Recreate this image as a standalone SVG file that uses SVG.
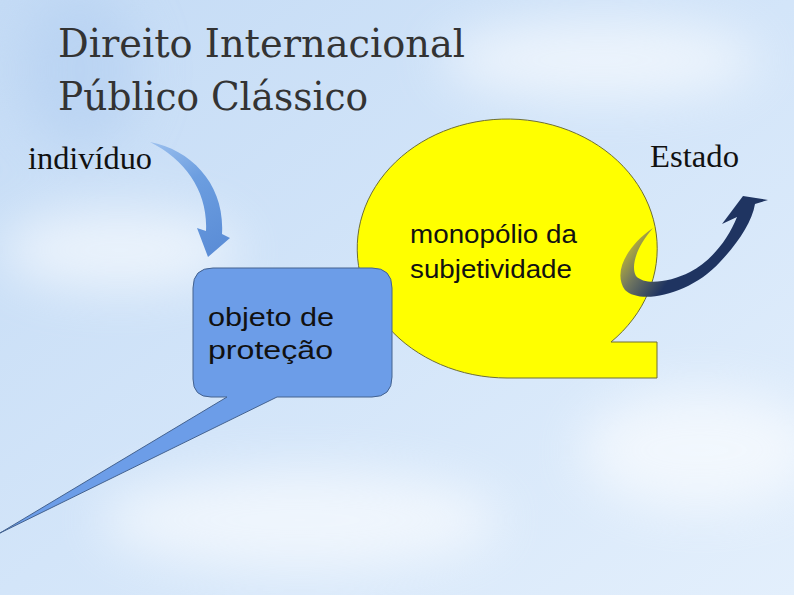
<svg xmlns="http://www.w3.org/2000/svg" width="794" height="595" viewBox="0 0 794 595">
<defs>
<linearGradient id="bg" x1="0" y1="0" x2="1" y2="1">
<stop offset="0" stop-color="#c4dbf5"/>
<stop offset="0.5" stop-color="#d3e5f9"/>
<stop offset="1" stop-color="#e3effc"/>
</linearGradient>
<filter id="blur" x="-50%" y="-50%" width="200%" height="200%"><feGaussianBlur stdDeviation="25"/></filter>
<linearGradient id="lightArrow" gradientUnits="userSpaceOnUse" x1="150" y1="142" x2="215" y2="257">
<stop offset="0" stop-color="#9cc0ee"/>
<stop offset="0.4" stop-color="#6c9ee0"/>
<stop offset="1" stop-color="#5a8cd6"/>
</linearGradient>
<linearGradient id="darkArrow" gradientUnits="userSpaceOnUse" x1="622" y1="250" x2="668" y2="282">
<stop offset="0" stop-color="#c2b935"/>
<stop offset="0.45" stop-color="#6f7560"/>
<stop offset="1" stop-color="#1f3461"/>
</linearGradient>
<style>
.title{font-family:"DejaVu Serif","Liberation Serif",serif;font-size:39px;fill:#333333}
.label{font-family:"Liberation Serif","Times New Roman",serif;font-size:32px;fill:#111111}
.body{font-family:"Liberation Sans",Arial,sans-serif;font-size:26px;fill:#111111}
</style>
</defs>
<rect width="794" height="595" fill="url(#bg)"/>
<g filter="url(#blur)" opacity="0.6">
<ellipse cx="120" cy="250" rx="120" ry="40" fill="#ffffff"/>
<ellipse cx="600" cy="60" rx="160" ry="40" fill="#ffffff"/>
<ellipse cx="300" cy="520" rx="200" ry="50" fill="#ffffff"/>
<ellipse cx="700" cy="450" rx="120" ry="60" fill="#ffffff"/>
<ellipse cx="80" cy="70" rx="60" ry="80" fill="#b3cff1"/>
</g>

<g id="title">
<text class="title" x="58" y="57" textLength="407" lengthAdjust="spacingAndGlyphs">Direito Internacional</text>
<text class="title" x="58" y="110" textLength="310" lengthAdjust="spacingAndGlyphs">Público Clássico</text>
</g>

<g id="estado">
<path d="M611,342 A150,129.5 0 1 0 507,378 L657,378 L657,342 Z" fill="#ffff00" stroke="#6e6e34" stroke-width="1"/>
<text class="body" x="410" y="243" textLength="167" lengthAdjust="spacingAndGlyphs">monopólio da</text>
<text class="body" x="410" y="278" textLength="162" lengthAdjust="spacingAndGlyphs">subjetividade</text>
</g>

<g id="individuo">
<path d="M213,268 H372 Q392,268 392,288 V377 Q392,397 372,397 H277 L0,533 L227,397 H211 Q193,397 193,379 V288 Q193,268 213,268 Z" fill="#6c9de8" stroke="#44628f" stroke-width="1"/>
<text class="body" x="208" y="326" textLength="126" lengthAdjust="spacingAndGlyphs">objeto de</text>
<text class="body" x="208" y="359" textLength="125" lengthAdjust="spacingAndGlyphs">proteção</text>
</g>

<g id="label-individuo">
<text class="label" x="28" y="169" textLength="124" lengthAdjust="spacingAndGlyphs">indivíduo</text>
</g>
<g id="label-estado">
<text class="label" x="650" y="167" textLength="89" lengthAdjust="spacingAndGlyphs">Estado</text>
</g>

<g id="connectors">
<path d="M150,142 C192,150 225,185 222,234 L230,238 L208,257 L197,228 L206,231 C208,192 186,160 150,142 Z" fill="url(#lightArrow)"/>
<path d="M653,228 C628,245 612,272 625,290 C640,305 690,295 720,262 C738,243 752,222 755,204 L768,200 L743,196 L722,224 L737,217 C728,240 710,262 690,272 C670,282 645,286 636,276 C630,265 638,245 653,228 Z" fill="url(#darkArrow)"/>
</g>
</svg>
